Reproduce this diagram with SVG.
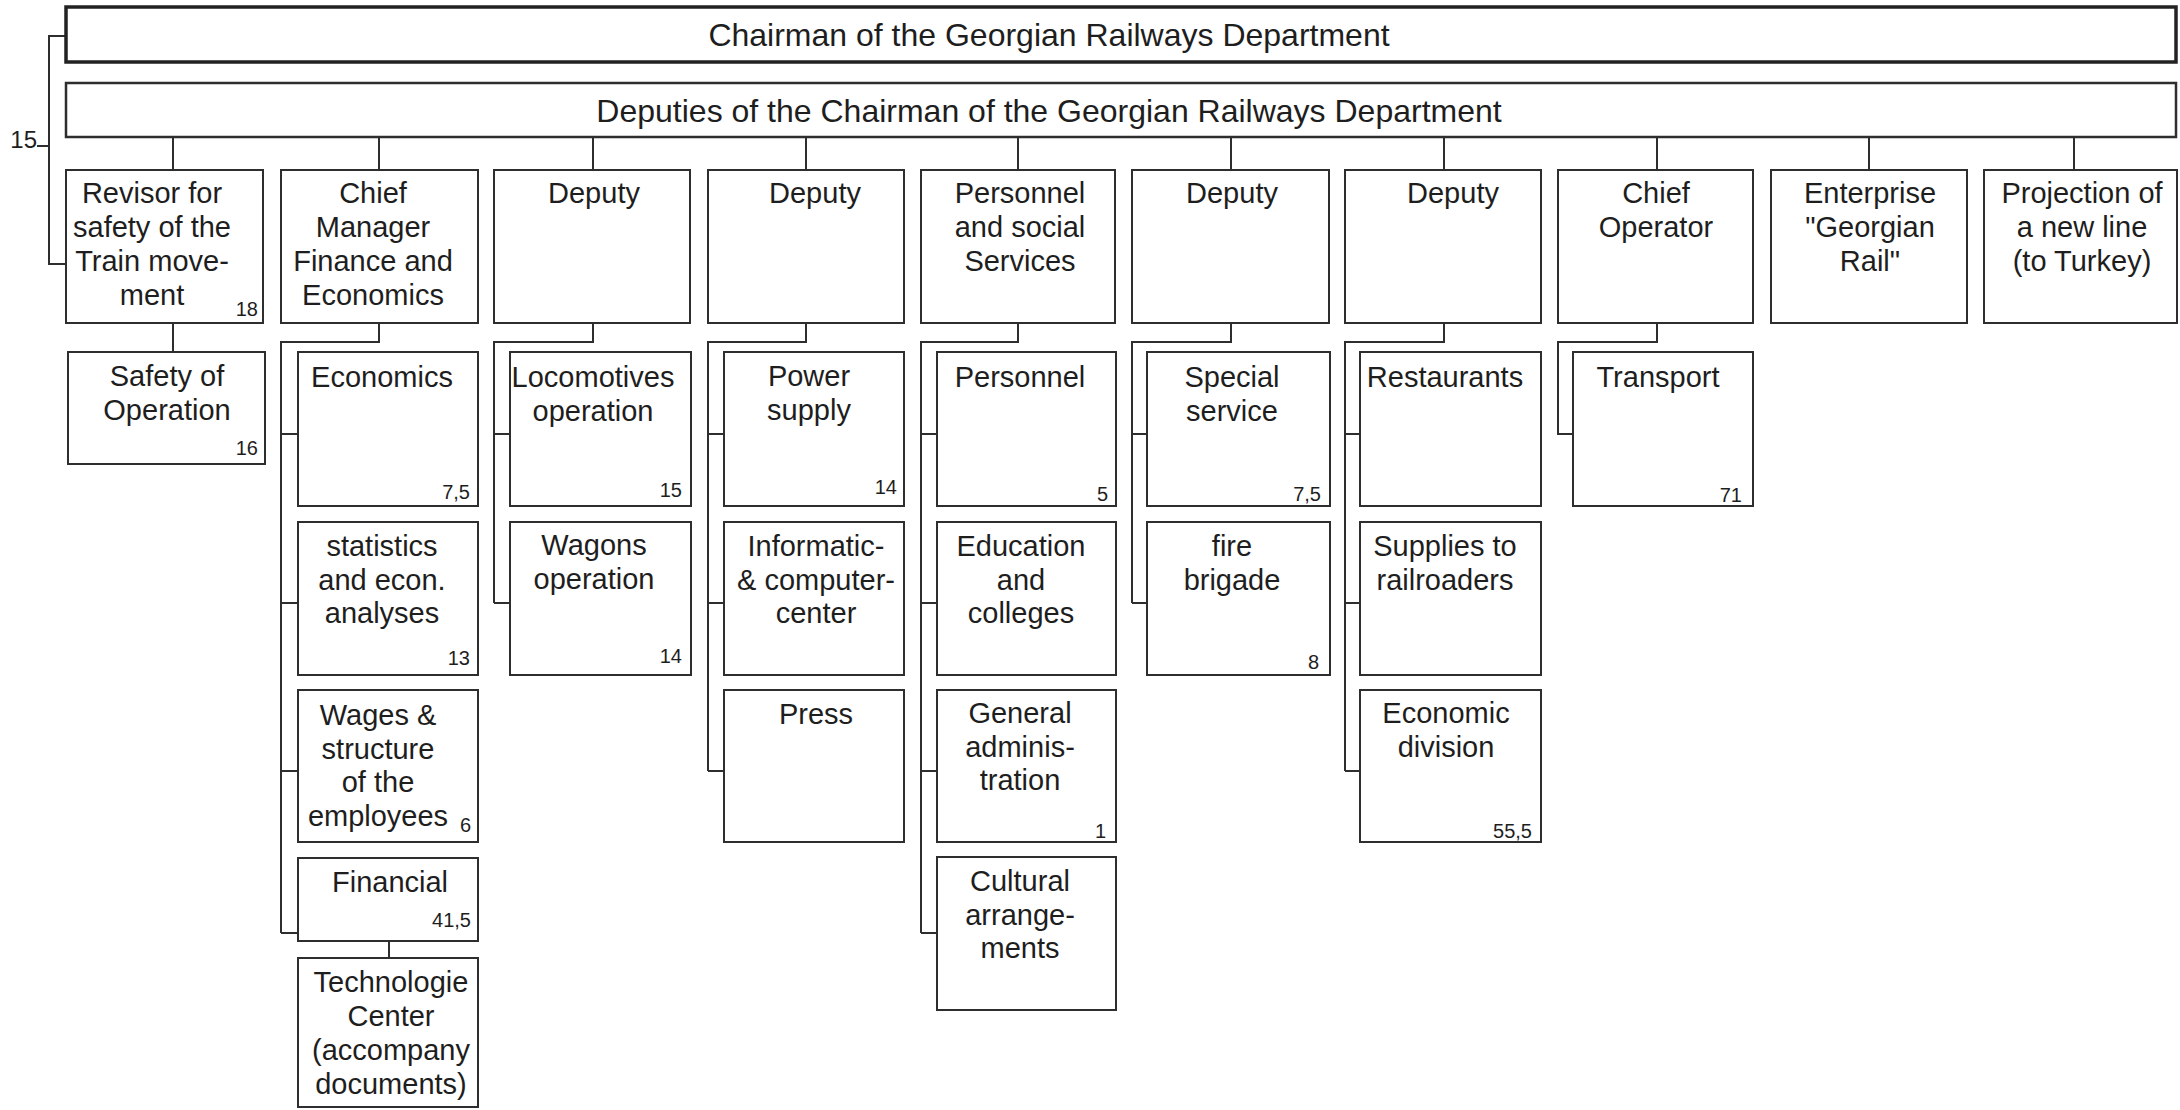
<svg xmlns="http://www.w3.org/2000/svg" width="2180" height="1110" viewBox="0 0 2180 1110">
<style>
  .bg{fill:#ffffff}
  .box{fill:#ffffff;stroke:#2e2e2e;stroke-width:2}
  .main{fill:#ffffff;stroke:#222;stroke-width:3.5}
  .ln{fill:none;stroke:#2e2e2e;stroke-width:2}
  .t{font-family:"Liberation Sans",Arial,sans-serif;font-size:29px;fill:#1e1e1e;text-anchor:middle}
  .title{font-family:"Liberation Sans",Arial,sans-serif;font-size:32px;fill:#1e1e1e;text-anchor:middle}
  .n{font-family:"Liberation Sans",Arial,sans-serif;font-size:20px;fill:#1e1e1e;text-anchor:end}
</style>
<rect class="bg" x="0" y="0" width="2180" height="1110"/>

<g id="connectors">
  <!-- bracket 15 -->
  <polyline class="ln" points="66,36 49,36 49,264 66,264"/>
  <line class="ln" x1="37" y1="146" x2="49" y2="146"/>
  <!-- deputies to top row -->
  <line class="ln" x1="173" y1="137" x2="173" y2="170"/>
  <line class="ln" x1="379" y1="137" x2="379" y2="170"/>
  <line class="ln" x1="593" y1="137" x2="593" y2="170"/>
  <line class="ln" x1="806" y1="137" x2="806" y2="170"/>
  <line class="ln" x1="1018" y1="137" x2="1018" y2="170"/>
  <line class="ln" x1="1231" y1="137" x2="1231" y2="170"/>
  <line class="ln" x1="1444" y1="137" x2="1444" y2="170"/>
  <line class="ln" x1="1657" y1="137" x2="1657" y2="170"/>
  <line class="ln" x1="1869" y1="137" x2="1869" y2="170"/>
  <line class="ln" x1="2074" y1="137" x2="2074" y2="170"/>
  <!-- revisor to safety -->
  <line class="ln" x1="173" y1="323" x2="173" y2="352"/>
  <!-- chief manager -->
  <polyline class="ln" points="379,323 379,342 281,342 281,933"/>
  <line class="ln" x1="281" y1="434" x2="298" y2="434"/>
  <line class="ln" x1="281" y1="603" x2="298" y2="603"/>
  <line class="ln" x1="281" y1="771" x2="298" y2="771"/>
  <line class="ln" x1="281" y1="933" x2="298" y2="933"/>
  <line class="ln" x1="389" y1="941" x2="389" y2="958"/>
  <!-- deputy 1 -->
  <polyline class="ln" points="593,323 593,342 494,342 494,603"/>
  <line class="ln" x1="494" y1="434" x2="510" y2="434"/>
  <line class="ln" x1="494" y1="603" x2="510" y2="603"/>
  <!-- deputy 2 -->
  <polyline class="ln" points="806,323 806,342 708,342 708,771"/>
  <line class="ln" x1="708" y1="434" x2="724" y2="434"/>
  <line class="ln" x1="708" y1="603" x2="724" y2="603"/>
  <line class="ln" x1="708" y1="771" x2="724" y2="771"/>
  <!-- personnel -->
  <polyline class="ln" points="1018,323 1018,342 921,342 921,933"/>
  <line class="ln" x1="921" y1="434" x2="937" y2="434"/>
  <line class="ln" x1="921" y1="603" x2="937" y2="603"/>
  <line class="ln" x1="921" y1="771" x2="937" y2="771"/>
  <line class="ln" x1="921" y1="933" x2="937" y2="933"/>
  <!-- deputy 3 -->
  <polyline class="ln" points="1231,323 1231,342 1132,342 1132,603"/>
  <line class="ln" x1="1132" y1="434" x2="1147" y2="434"/>
  <line class="ln" x1="1132" y1="603" x2="1147" y2="603"/>
  <!-- deputy 4 -->
  <polyline class="ln" points="1444,323 1444,342 1345,342 1345,771"/>
  <line class="ln" x1="1345" y1="434" x2="1360" y2="434"/>
  <line class="ln" x1="1345" y1="603" x2="1360" y2="603"/>
  <line class="ln" x1="1345" y1="771" x2="1360" y2="771"/>
  <!-- chief operator -->
  <polyline class="ln" points="1657,323 1657,342 1558,342 1558,434 1573,434"/>
</g>

<text class="n" x="37" y="148" style="font-size:24px">15</text>

<g id="chairman">
  <rect class="main" x="66" y="7" width="2110" height="55"/>
  <text class="title" x="1049" y="46">Chairman of the Georgian Railways Department</text>
</g>
<g id="deputies">
  <rect class="box" x="66" y="83" width="2110" height="54" style="stroke-width:2.5"/>
  <text class="title" x="1049" y="122">Deputies of the Chairman of the Georgian Railways Department</text>
</g>

<!-- top row -->
<g id="revisor">
  <rect class="box" x="66" y="170" width="197" height="153"/>
  <text class="t" y="203"><tspan x="152">Revisor for</tspan><tspan x="152" dy="34">safety of the</tspan><tspan x="152" dy="34">Train move-</tspan><tspan x="152" dy="34">ment</tspan></text>
  <text class="n" x="258" y="316">18</text>
</g>
<g id="chief-manager">
  <rect class="box" x="281" y="170" width="197" height="153"/>
  <text class="t" y="203"><tspan x="373">Chief</tspan><tspan x="373" dy="34">Manager</tspan><tspan x="373" dy="34">Finance and</tspan><tspan x="373" dy="34">Economics</tspan></text>
</g>
<g id="deputy-1">
  <rect class="box" x="494" y="170" width="196" height="153"/>
  <text class="t" x="594" y="203">Deputy</text>
</g>
<g id="deputy-2">
  <rect class="box" x="708" y="170" width="196" height="153"/>
  <text class="t" x="815" y="203">Deputy</text>
</g>
<g id="personnel-social">
  <rect class="box" x="921" y="170" width="194" height="153"/>
  <text class="t" y="203"><tspan x="1020">Personnel</tspan><tspan x="1020" dy="34">and social</tspan><tspan x="1020" dy="34">Services</tspan></text>
</g>
<g id="deputy-3">
  <rect class="box" x="1132" y="170" width="197" height="153"/>
  <text class="t" x="1232" y="203">Deputy</text>
</g>
<g id="deputy-4">
  <rect class="box" x="1345" y="170" width="196" height="153"/>
  <text class="t" x="1453" y="203">Deputy</text>
</g>
<g id="chief-operator">
  <rect class="box" x="1558" y="170" width="195" height="153"/>
  <text class="t" y="203"><tspan x="1656">Chief</tspan><tspan x="1656" dy="34">Operator</tspan></text>
</g>
<g id="enterprise">
  <rect class="box" x="1771" y="170" width="196" height="153"/>
  <text class="t" y="203"><tspan x="1870">Enterprise</tspan><tspan x="1870" dy="34">"Georgian</tspan><tspan x="1870" dy="34">Rail"</tspan></text>
</g>
<g id="projection">
  <rect class="box" x="1984" y="170" width="193" height="153"/>
  <text class="t" y="203"><tspan x="2082">Projection of</tspan><tspan x="2082" dy="34">a new line</tspan><tspan x="2082" dy="34">(to Turkey)</tspan></text>
</g>

<!-- second level -->
<g id="safety-operation">
  <rect class="box" x="68" y="352" width="197" height="112"/>
  <text class="t" y="386"><tspan x="167">Safety of</tspan><tspan x="167" dy="34">Operation</tspan></text>
  <text class="n" x="258" y="455">16</text>
</g>
<g id="economics">
  <rect class="box" x="298" y="352" width="180" height="154"/>
  <text class="t" x="382" y="387">Economics</text>
  <text class="n" x="470" y="499">7,5</text>
</g>
<g id="statistics">
  <rect class="box" x="298" y="522" width="180" height="153"/>
  <text class="t" y="556"><tspan x="382">statistics</tspan><tspan x="382" dy="33.5">and econ.</tspan><tspan x="382" dy="33.5">analyses</tspan></text>
  <text class="n" x="470" y="665">13</text>
</g>
<g id="wages">
  <rect class="box" x="298" y="690" width="180" height="152"/>
  <text class="t" y="725"><tspan x="378">Wages &amp;</tspan><tspan x="378" dy="33.7">structure</tspan><tspan x="378" dy="33.7">of the</tspan><tspan x="378" dy="33.7">employees</tspan></text>
  <text class="n" x="471" y="832">6</text>
</g>
<g id="financial">
  <rect class="box" x="298" y="858" width="180" height="83"/>
  <text class="t" x="390" y="892">Financial</text>
  <text class="n" x="471" y="927">41,5</text>
</g>
<g id="technologie">
  <rect class="box" x="298" y="958" width="180" height="149"/>
  <text class="t" y="992"><tspan x="391">Technologie</tspan><tspan x="391" dy="34">Center</tspan><tspan x="391" dy="34">(accompany</tspan><tspan x="391" dy="34">documents)</tspan></text>
</g>
<g id="locomotives">
  <rect class="box" x="510" y="352" width="181" height="154"/>
  <text class="t" y="387"><tspan x="593">Locomotives</tspan><tspan x="593" dy="33.5">operation</tspan></text>
  <text class="n" x="682" y="497">15</text>
</g>
<g id="wagons">
  <rect class="box" x="510" y="522" width="181" height="153"/>
  <text class="t" y="555"><tspan x="594">Wagons</tspan><tspan x="594" dy="33.5">operation</tspan></text>
  <text class="n" x="682" y="663">14</text>
</g>
<g id="power-supply">
  <rect class="box" x="724" y="352" width="180" height="154"/>
  <text class="t" y="386"><tspan x="809">Power</tspan><tspan x="809" dy="33.5">supply</tspan></text>
  <text class="n" x="897" y="494">14</text>
</g>
<g id="informatic">
  <rect class="box" x="724" y="522" width="180" height="153"/>
  <text class="t" y="556"><tspan x="816">Informatic-</tspan><tspan x="816" dy="33.5">&amp; computer-</tspan><tspan x="816" dy="33.5">center</tspan></text>
</g>
<g id="press">
  <rect class="box" x="724" y="690" width="180" height="152"/>
  <text class="t" x="816" y="724">Press</text>
</g>
<g id="personnel">
  <rect class="box" x="937" y="352" width="179" height="154"/>
  <text class="t" x="1020" y="387">Personnel</text>
  <text class="n" x="1108" y="501">5</text>
</g>
<g id="education">
  <rect class="box" x="937" y="522" width="179" height="153"/>
  <text class="t" y="556"><tspan x="1021">Education</tspan><tspan x="1021" dy="33.5">and</tspan><tspan x="1021" dy="33.5">colleges</tspan></text>
</g>
<g id="general-administration">
  <rect class="box" x="937" y="690" width="179" height="152"/>
  <text class="t" y="723"><tspan x="1020">General</tspan><tspan x="1020" dy="33.5">adminis-</tspan><tspan x="1020" dy="33.5">tration</tspan></text>
  <text class="n" x="1106" y="838">1</text>
</g>
<g id="cultural">
  <rect class="box" x="937" y="857" width="179" height="153"/>
  <text class="t" y="891"><tspan x="1020">Cultural</tspan><tspan x="1020" dy="33.5">arrange-</tspan><tspan x="1020" dy="33.5">ments</tspan></text>
</g>
<g id="special-service">
  <rect class="box" x="1147" y="352" width="183" height="154"/>
  <text class="t" y="387"><tspan x="1232">Special</tspan><tspan x="1232" dy="33.5">service</tspan></text>
  <text class="n" x="1321" y="501">7,5</text>
</g>
<g id="fire-brigade">
  <rect class="box" x="1147" y="522" width="183" height="153"/>
  <text class="t" y="556"><tspan x="1232">fire</tspan><tspan x="1232" dy="33.5">brigade</tspan></text>
  <text class="n" x="1319" y="669">8</text>
</g>
<g id="restaurants">
  <rect class="box" x="1360" y="352" width="181" height="154"/>
  <text class="t" x="1445" y="387">Restaurants</text>
</g>
<g id="supplies">
  <rect class="box" x="1360" y="522" width="181" height="153"/>
  <text class="t" y="556"><tspan x="1445">Supplies to</tspan><tspan x="1445" dy="33.5">railroaders</tspan></text>
</g>
<g id="economic-division">
  <rect class="box" x="1360" y="690" width="181" height="152"/>
  <text class="t" y="723"><tspan x="1446">Economic</tspan><tspan x="1446" dy="34">division</tspan></text>
  <text class="n" x="1532" y="838">55,5</text>
</g>
<g id="transport">
  <rect class="box" x="1573" y="352" width="180" height="154"/>
  <text class="t" x="1658" y="387">Transport</text>
  <text class="n" x="1742" y="502">71</text>
</g>
</svg>
